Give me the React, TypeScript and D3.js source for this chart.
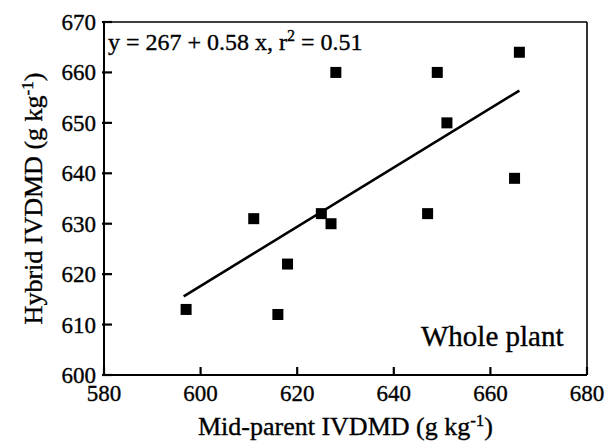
import * as d3 from "d3";

// Mid-parent IVDMD (x) vs hybrid IVDMD (y), g/kg
const midParent = [597, 611, 616, 618, 625, 627, 628, 647, 649, 651, 665, 666];
const hybrid = [613, 631, 612, 622, 632, 630, 660, 632, 660, 650, 639, 664];

// fitted regression line as drawn
const fitX = [596.5, 666];
const fitY = [615.6, 656.4];

const xTicks = [580, 600, 620, 640, 660, 680];
const yTicks = [600, 610, 620, 630, 640, 650, 660, 670];

const width = 609;
const height = 444;
const margin = { top: 22, right: 22, bottom: 69, left: 104 };
const font = "'Liberation Serif', 'Times New Roman', serif";

const App = () => {
  const x = d3.scaleLinear().domain([580, 680]).range([margin.left, width - margin.right]);
  const y = d3.scaleLinear().domain([600, 670]).range([height - margin.bottom, margin.top]);

  const line = d3
    .line<number>()
    .x((d) => x(d))
    .y((_, i) => y(fitY[i]));

  const x0 = x(580);
  const x1 = x(680);
  const y0 = y(600);
  const y1 = y(670);
  const sq = 11;

  return (
    <svg
      width={width}
      height={height}
      style={{ position: "absolute", left: 0, top: 0, background: "#fff" }}
      fontFamily={font}
    >
      {/* frame */}
      <line x1={x0} x2={x1} y1={y1} y2={y1} stroke="#000" strokeWidth={1.6} />
      <line x1={x1} x2={x1} y1={y1} y2={y0} stroke="#000" strokeWidth={1.6} />
      <line x1={x0} x2={x1} y1={y0} y2={y0} stroke="#000" strokeWidth={2} />
      <line x1={x0} x2={x0} y1={y1} y2={y0} stroke="#000" strokeWidth={2} />

      <g stroke="#000" strokeWidth={0.35}>
        {/* y ticks */}
        {yTicks.map((t) => (
          <g key={t}>
            <line x1={x0 - 2} x2={x0 + 8} y1={y(t)} y2={y(t)} stroke="#000" strokeWidth={2.2} />
            <text x={x0 - 8} y={y(t)} dy="0.35em" textAnchor="end" fontSize={23}>
              {t}
            </text>
          </g>
        ))}

        {/* x ticks */}
        {xTicks.map((t) => (
          <g key={t}>
            <line x1={x(t)} x2={x(t)} y1={y0} y2={y0 - 8} stroke="#000" strokeWidth={2.2} />
            <text x={x(t)} y={401} textAnchor="middle" fontSize={23}>
              {t}
            </text>
          </g>
        ))}

        {/* equation */}
        <text x={108} y={50} fontSize={24}>
          y = 267 + 0.58 x, r
          <tspan dy={-9} fontSize={16}>2</tspan>
          <tspan dy={9}> = 0.51</tspan>
        </text>

        <text x={421} y={346} fontSize={29}>
          Whole plant
        </text>

        {/* axis titles */}
        <text x={(x0 + x1) / 2} y={435} textAnchor="middle" fontSize={26}>
          Mid-parent IVDMD (g kg
          <tspan dy={-9} fontSize={17}>-1</tspan>
          <tspan dy={9}>)</tspan>
        </text>
        <text
          transform={`translate(42, ${(y0 + y1) / 2}) rotate(-90)`}
          textAnchor="middle"
          fontSize={26}
        >
          Hybrid IVDMD (g kg
          <tspan dy={-9} fontSize={17}>-1</tspan>
          <tspan dy={9}>)</tspan>
        </text>
      </g>

      {/* regression line */}
      <path d={line(fitX) || ""} fill="none" stroke="#000" strokeWidth={2.6} />

      {/* points */}
      {midParent.map((v, i) => (
        <rect
          key={i}
          x={x(v) - sq / 2}
          y={y(hybrid[i]) - sq / 2}
          width={sq}
          height={sq}
          fill="#000"
        />
      ))}
    </svg>
  );
};

export default App;
